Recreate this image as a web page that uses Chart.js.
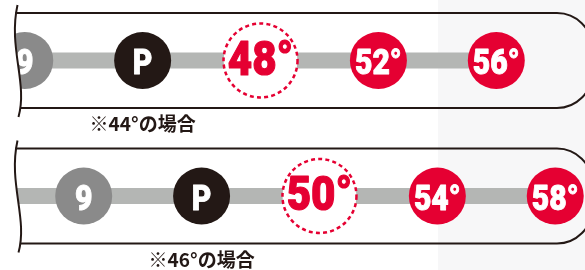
<!DOCTYPE html>
<html><head><meta charset="utf-8">
<script src="https://cdn.jsdelivr.net/npm/chart.js@4"></script>
<style>html,body{margin:0;padding:0;background:#fff;overflow:hidden}</style>
</head><body>
<canvas id="c" width="585" height="270"></canvas>
<script>
// ---- data ----
const rows = [0, 1];
const topLabels = ['9', 'P', '48°', '52°', '56°'];
const topLofts = [40, 44, 48, 52, 56];
const bottomLabels = ['9', 'P', '50°', '54°', '58°'];
const bottomLofts = [42, 46, 50, 54, 58];
const clubRoles = ['nine', 'pw', 'choice', 'wedge', 'wedge'];
const notes = ['※44°の場合', '※46°の場合'];
const loftRange = [39.16, 59.01];
const rowRange = [-0.4465, 1.5461];

// ---- styles ----
const RED = '#e50032';
const DARK = '#231815';
const roleStyle = {
  nine:   { bg: '#8a8a8a', border: '#8a8a8a', r: 28.5, bw: 0,   size: 35, color: '#ffffff' },
  pw:     { bg: DARK,      border: DARK,      r: 28.5, bw: 0,   size: 35, color: '#ffffff' },
  choice: { bg: '#ffffff', border: RED,       r: 37,   bw: 2.5, size: 49, color: RED },
  wedge:  { bg: RED,       border: RED,       r: 28.5, bw: 0,   size: 35, color: '#ffffff' }
};

const rowLabels = [topLabels, bottomLabels];
const rowLofts = [topLofts, bottomLofts];

const datasets = [];
rows.forEach((row, i) => {
  const lofts = rowLofts[i];
  datasets.push({
    kind: 'bar', row: i,
    data: [{ x: loftRange[0], y: row }, { x: lofts[lofts.length - 1], y: row }],
    showLine: true, borderColor: '#b4b6b4', borderWidth: 16, borderCapStyle: 'butt',
    pointRadius: 0, order: 5
  });
  datasets.push({
    kind: 'circles', row: i, labels: rowLabels[i], roles: clubRoles,
    data: lofts.map(l => ({ x: l, y: row })),
    showLine: false,
    pointRadius: clubRoles.map(r => roleStyle[r].r),
    pointBackgroundColor: clubRoles.map(r => roleStyle[r].bg),
    pointBorderColor: clubRoles.map(r => roleStyle[r].border),
    pointBorderWidth: clubRoles.map(r => roleStyle[r].bw),
    order: 1
  });
});

const HALF = 47.5, CORNER_X = 557, CR = 35;

function roundedPanel(ctx, top, bottom) {
  ctx.moveTo(0, top);
  ctx.lineTo(CORNER_X, top);
  ctx.arcTo(CORNER_X + CR, top, CORNER_X + CR, top + CR, CR);
  ctx.lineTo(CORNER_X + CR, bottom - CR);
  ctx.arcTo(CORNER_X + CR, bottom, CORNER_X, bottom, CR);
  ctx.lineTo(0, bottom);
  ctx.closePath();
}

const deco = {
  id: 'deco',
  beforeDraw(chart) {
    const ctx = chart.ctx;
    ctx.save();
    ctx.fillStyle = '#ffffff';
    ctx.fillRect(0, 0, chart.width, chart.height);
    ctx.fillStyle = '#f7f7f8';
    ctx.fillRect(438, 0, chart.width - 438, chart.height);
    ctx.restore();
  },
  beforeDatasetsDraw(chart) {
    const ctx = chart.ctx, ys = chart.scales.y;
    ctx.save();
    ctx.beginPath();
    rows.forEach(r => {
      const cy = ys.getPixelForValue(r);
      roundedPanel(ctx, cy - HALF, cy + HALF);
    });
    ctx.clip();
    ctx.beginPath();
    rows.forEach(r => {
      const cy = ys.getPixelForValue(r);
      const top = cy - HALF;
      ctx.moveTo(17.5, top - 8);
      ctx.bezierCurveTo(8, top + 35, 28, top + 70, 18.5, top + 104);
      ctx.lineTo(700, top + 104);
      ctx.lineTo(700, top - 8);
      ctx.closePath();
    });
    ctx.clip();
  },
  beforeDatasetDraw(chart, args) {
    const ds = chart.data.datasets[args.index];
    if (ds.kind === 'circles') chart.ctx.setLineDash([4, 3.2]);
  },
  afterDatasetDraw(chart) {
    chart.ctx.setLineDash([]);
  },
  afterDatasetsDraw(chart) {
    const ctx = chart.ctx, ys = chart.scales.y;
    // labels inside circles
    chart.data.datasets.forEach((ds, di) => {
      if (ds.kind !== 'circles') return;
      const meta = chart.getDatasetMeta(di);
      meta.data.forEach((el, k) => {
        const st = roleStyle[ds.roles[k]];
        const big = st.size > 40;
        ctx.save();
        ctx.translate(el.x, el.y + (big ? 14 : 13.5));
        ctx.scale(0.86, 1);
        ctx.font = '900 ' + st.size + 'px Roboto';
        ctx.fillStyle = st.color;
        ctx.strokeStyle = st.color;
        ctx.lineWidth = big ? 1.2 : 0.9;
        ctx.lineJoin = 'round';
        ctx.textAlign = 'center';
        ctx.textBaseline = 'alphabetic';
        ctx.fillText(ds.labels[k], 0, 0);
        ctx.strokeText(ds.labels[k], 0, 0);
        ctx.restore();
      });
    });
    ctx.restore();
    // outlines
    ctx.save();
    ctx.strokeStyle = DARK;
    ctx.lineWidth = 2;
    rows.forEach(r => {
      const cy = ys.getPixelForValue(r);
      const top = cy - HALF, bottom = cy + HALF;
      ctx.beginPath();
      ctx.moveTo(15.5, top);
      ctx.lineTo(CORNER_X, top);
      ctx.arcTo(CORNER_X + CR, top, CORNER_X + CR, top + CR, CR);
      ctx.lineTo(CORNER_X + CR, bottom - CR);
      ctx.arcTo(CORNER_X + CR, bottom, CORNER_X, bottom, CR);
      ctx.lineTo(20.5, bottom);
      ctx.stroke();
      ctx.beginPath();
      ctx.moveTo(17.5, top - 8);
      ctx.bezierCurveTo(8, top + 35, 28, top + 70, 18.5, top + 104);
      ctx.stroke();
    });
    // notes under the P circle
    chart.data.datasets.forEach((ds, di) => {
      if (ds.kind !== 'circles') return;
      const meta = chart.getDatasetMeta(di);
      const pEl = meta.data[ds.roles.indexOf('pw')];
      ctx.font = '700 19px "Noto Sans CJK JP"';
      ctx.fillStyle = DARK;
      ctx.textAlign = 'center';
      ctx.textBaseline = 'middle';
      ctx.fillText(notes[ds.row], pEl.x, pEl.y + 63.5);
    });
    ctx.restore();
  }
};

new Chart(document.getElementById('c'), {
  type: 'scatter',
  data: { datasets },
  options: {
    responsive: false,
    devicePixelRatio: 1,
    animation: false,
    events: [],
    layout: { padding: 0, autoPadding: false },
    plugins: { legend: { display: false }, tooltip: { enabled: false } },
    scales: {
      x: { type: 'linear', display: false, min: loftRange[0], max: loftRange[1] },
      y: { type: 'linear', display: false, reverse: true, min: rowRange[0], max: rowRange[1] }
    }
  },
  plugins: [deco]
});
</script>
</body></html>
